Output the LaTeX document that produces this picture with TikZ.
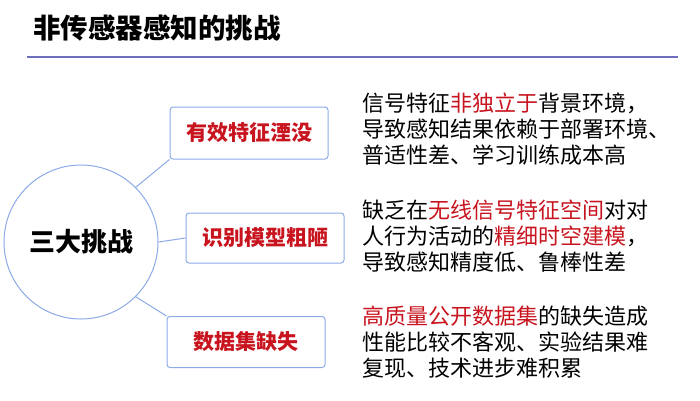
\documentclass[tikz,border=0pt]{standalone}
\usepackage{fontspec}
\setmainfont{Noto Sans CJK SC}
\definecolor{lb}{RGB}{140,170,230}
\definecolor{rd}{RGB}{200,20,30}
\definecolor{ul}{RGB}{110,110,190}
\tikzset{box/.style={draw=lb,line width=1pt,rounded corners=3pt},
 lbl/.style={text=rd,font=\fontsize{21}{21}\selectfont\bfseries},
 desc/.style={anchor=north west,align=left,font=\fontsize{22}{26}\selectfont,inner sep=0},
 conn/.style={draw=lb,line width=1pt}}
\begin{document}
\begin{tikzpicture}[x=1pt,y=-1pt]
\useasboundingbox (0,0) rectangle (700,400);
\node[anchor=west,inner sep=0,font=\fontsize{27.5}{27.5}\selectfont\bfseries] (t) at (33,28) {非传感器感知的挑战};
\draw[ul,line width=2pt] (27,57) -- (678,57);
\node[draw=lb,line width=1pt,circle,minimum size=154pt,inner sep=0,font=\fontsize{26}{26}\selectfont\bfseries] (c) at (81,242) {三大挑战};
\node[box,minimum width=158pt,minimum height=52pt,lbl] (b1) at (249,133) {有效特征湮没};
\node[box,minimum width=158pt,minimum height=50pt,lbl] (b2) at (265,238) {识别模型粗陋};
\node[box,minimum width=158pt,minimum height=51pt,lbl] (b3) at (246,342) {数据集缺失};
\draw[conn] (c.45) -- (b1.south west);
\draw[conn] (c.east) -- (b2.west);
\draw[conn] (c.-45) -- (b3.north west);
\node[desc] (d1) at (362,93) {信号特征\textcolor{rd}{非独立于}背景环境，\\导致感知结果依赖于部署环境、\\普适性差、学习训练成本高};
\node[desc] (d2) at (362,200) {缺乏在\textcolor{rd}{无线信号特征空间}对对\\人行为活动的\textcolor{rd}{精细时空建模}，\\导致感知精度低、鲁棒性差};
\node[desc] (d3) at (362,306) {\textcolor{rd}{高质量公开数据集}的缺失造成\\性能比较不客观、实验结果难\\复现、技术进步难积累};
\end{tikzpicture}
\end{document}
